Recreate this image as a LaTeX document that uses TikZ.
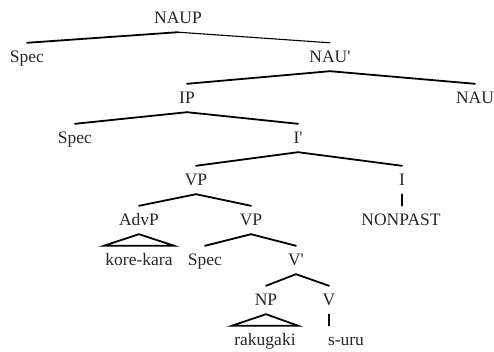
\documentclass[tikz,border=0pt]{standalone}
\usepackage{fontspec}
\setmainfont{Liberation Serif}
\begin{document}
\begin{tikzpicture}[x=1pt,y=-1pt,
  lab/.style={inner xsep=0pt,inner ysep=0pt,minimum height=28pt,text height=11.6pt,text depth=0pt,
    font=\fontsize{17.5pt}{20pt}\selectfont,text=black!85},
  br/.style={line width=1.8pt,line cap=round},
  thin/.style={line width=1.1pt,line cap=round}]
\useasboundingbox (0,0) rectangle (494,352);
\node[lab] (naup) at (178,18) {NAUP};
\node[lab] (spec1) at (27,57) {Spec};
\node[lab] (naubar) at (330,57) {NAU\textquotesingle};
\node[lab] (ip) at (187,98) {IP};
\node[lab] (nau) at (475,98) {NAU};
\node[lab] (spec2) at (75,138) {Spec};
\node[lab] (ibar) at (298,138) {I\textquotesingle};
\node[lab] (vp) at (196,180) {VP};
\node[lab] (i) at (402,180) {I};
\node[lab] (advp) at (139,220) {AdvP};
\node[lab] (vp2) at (251,220) {VP};
\node[lab] (nonpast) at (401,220) {NONPAST};
\node[lab,inner xsep=1.5pt] (korekara) at (139,260) {kore-kara};
\node[lab] (spec3) at (205,260) {Spec};
\node[lab] (vbar) at (296,260) {V\textquotesingle};
\node[lab] (np) at (266,300) {NP};
\node[lab] (v) at (329,300) {V};
\node[lab,inner xsep=2.5pt] (rakugaki) at (265,340) {rakugaki};
\node[lab] (suru) at (346,340) {s-uru};

\draw[br] (naup.south) -- (spec1.north);
\draw[thin] (naup.south) -- (naubar.north);
\draw[br] (naubar.south) -- (ip.north);
\draw[br] (naubar.south) -- (nau.north);
\draw[br] (ip.south) -- (spec2.north);
\draw[br] (ip.south) -- (ibar.north);
\draw[br] (ibar.south) -- (vp.north);
\draw[br] (ibar.south) -- (i.north);
\draw[thin] (i.south) -- (i.south |- nonpast.north);
\draw[br] (vp.south) -- (advp.north);
\draw[br] (vp.south) -- (vp2.north);
\draw[br,line join=miter] (advp.south) -- (korekara.north west) -- (korekara.north east) -- cycle;
\draw[br] (vp2.south) -- (spec3.north);
\draw[br] (vp2.south) -- (vbar.north);
\draw[br] (vbar.south) -- (np.north);
\draw[br] (vbar.south) -- (v.north);
\draw[br,line join=miter] (np.south) -- (rakugaki.north west) -- (rakugaki.north east) -- cycle;
\draw[thin] (v.south) -- (v.south |- suru.north);
\end{tikzpicture}
\end{document}
